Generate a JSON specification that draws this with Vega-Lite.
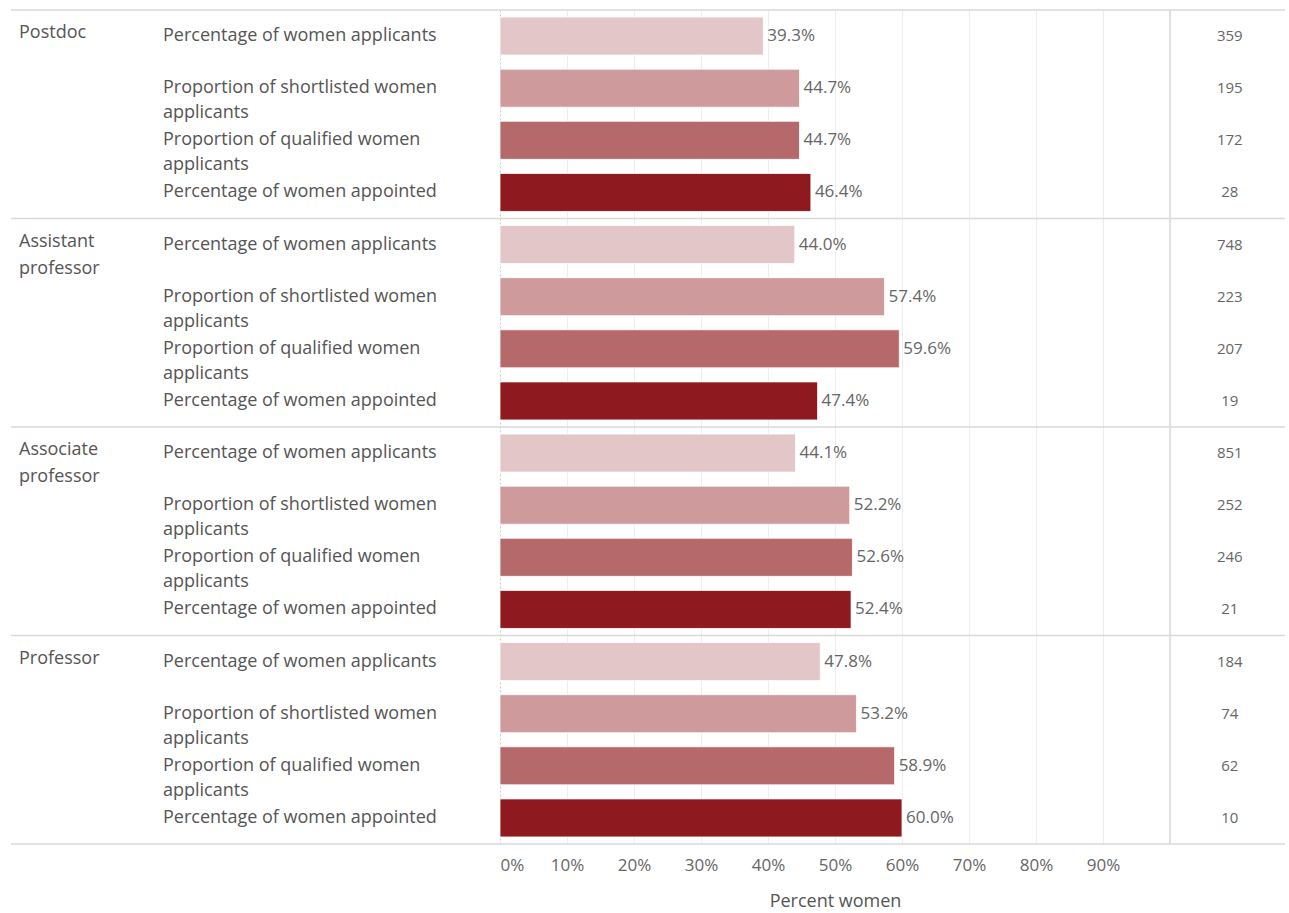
{
  "$schema": "https://vega.github.io/schema/vega-lite/v6.json",
  "padding": {"left": 10, "top": 9, "right": 4, "bottom": 0},
  "background": "white",
  "spacing": 0,
  "bounds": "flush",
  "config": {
    "font": "Open Sans",
    "view": {"stroke": null},
    "concat": {"spacing": 0}
  },
  "data": {
    "values": [
      {"level": "Postdoc", "measure": "Percentage of women applicants", "pct": 0.393, "n": 359},
      {"level": "Postdoc", "measure": "Proportion of shortlisted women\napplicants", "pct": 0.447, "n": 195},
      {"level": "Postdoc", "measure": "Proportion of qualified women\napplicants", "pct": 0.447, "n": 172},
      {"level": "Postdoc", "measure": "Percentage of women appointed", "pct": 0.464, "n": 28},
      {"level": "Assistant professor", "measure": "Percentage of women applicants", "pct": 0.440, "n": 748},
      {"level": "Assistant professor", "measure": "Proportion of shortlisted women\napplicants", "pct": 0.574, "n": 223},
      {"level": "Assistant professor", "measure": "Proportion of qualified women\napplicants", "pct": 0.596, "n": 207},
      {"level": "Assistant professor", "measure": "Percentage of women appointed", "pct": 0.474, "n": 19},
      {"level": "Associate professor", "measure": "Percentage of women applicants", "pct": 0.441, "n": 851},
      {"level": "Associate professor", "measure": "Proportion of shortlisted women\napplicants", "pct": 0.522, "n": 252},
      {"level": "Associate professor", "measure": "Proportion of qualified women\napplicants", "pct": 0.526, "n": 246},
      {"level": "Associate professor", "measure": "Percentage of women appointed", "pct": 0.524, "n": 21},
      {"level": "Professor", "measure": "Percentage of women applicants", "pct": 0.478, "n": 184},
      {"level": "Professor", "measure": "Proportion of shortlisted women\napplicants", "pct": 0.532, "n": 74},
      {"level": "Professor", "measure": "Proportion of qualified women\napplicants", "pct": 0.589, "n": 62},
      {"level": "Professor", "measure": "Percentage of women appointed", "pct": 0.600, "n": 10}
    ]
  },
  "hconcat": [
    {
      "width": 142,
      "height": 834,
      "layer": [
        {
          "transform": [{"filter": "datum.measure == 'Percentage of women applicants'"}],
          "mark": {"type": "rule", "color": "#d9d9d9", "strokeWidth": 1.5},
          "encoding": {
            "y": {"field": "level", "type": "nominal", "sort": ["Postdoc", "Assistant professor", "Associate professor", "Professor"], "bandPosition": 0, "axis": null, "scale": {"padding": 0}}
          }
        },
        {
          "transform": [{"filter": "datum.measure == 'Percentage of women appointed' && datum.level == 'Professor'"}],
          "mark": {"type": "rule", "color": "#d9d9d9", "strokeWidth": 1.5},
          "encoding": {
            "y": {"field": "level", "type": "nominal", "sort": ["Postdoc", "Assistant professor", "Associate professor", "Professor"], "bandPosition": 1, "axis": null}
          }
        },
        {
          "transform": [{"filter": "datum.measure == 'Percentage of women applicants'"}],
          "mark": {"type": "text", "align": "left", "baseline": "top", "dx": 8, "dy": 14, "fontSize": 18, "color": "#555555", "lineBreak": " ", "lineHeight": 27},
          "encoding": {
            "x": {"datum": 0, "type": "quantitative", "scale": {"domain": [0, 1]}, "axis": null},
            "y": {"field": "level", "type": "nominal", "sort": ["Postdoc", "Assistant professor", "Associate professor", "Professor"], "bandPosition": 0, "axis": null},
            "text": {"field": "level"}
          }
        }
      ]
    },
    {
      "width": 347,
      "height": 834,
      "layer": [
        {
          "transform": [{"filter": "datum.measure == 'Percentage of women applicants'"}],
          "mark": {"type": "rule", "color": "#d9d9d9", "strokeWidth": 1.5},
          "encoding": {
            "y": {"field": "level", "type": "nominal", "sort": ["Postdoc", "Assistant professor", "Associate professor", "Professor"], "bandPosition": 0, "axis": null, "scale": {"padding": 0}}
          }
        },
        {
          "transform": [{"filter": "datum.measure == 'Percentage of women appointed' && datum.level == 'Professor'"}],
          "mark": {"type": "rule", "color": "#d9d9d9", "strokeWidth": 1.5},
          "encoding": {
            "y": {"field": "level", "type": "nominal", "sort": ["Postdoc", "Assistant professor", "Associate professor", "Professor"], "bandPosition": 1, "axis": null}
          }
        },
        {
          "mark": {"type": "text", "align": "left", "baseline": "middle", "dx": 10, "fontSize": 18, "color": "#555555", "lineBreak": "\n", "lineHeight": 25},
          "encoding": {
            "x": {"datum": 0, "type": "quantitative", "scale": {"domain": [0, 1]}, "axis": null},
            "y": {"field": "level", "type": "nominal", "sort": ["Postdoc", "Assistant professor", "Associate professor", "Professor"], "axis": null},
            "yOffset": {"field": "measure", "type": "nominal", "sort": ["Percentage of women applicants", "Proportion of shortlisted women\napplicants", "Proportion of qualified women\napplicants", "Percentage of women appointed"], "scale": {"paddingInner": 0.27, "paddingOuter": 0.135}},
            "text": {"field": "measure"}
          }
        }
      ]
    },
    {
      "width": 670,
      "height": 834,
      "layer": [
        {
          "transform": [{"filter": "datum.measure == 'Percentage of women applicants'"}],
          "mark": {"type": "rule", "color": "#d9d9d9", "strokeWidth": 1.5},
          "encoding": {
            "y": {"field": "level", "type": "nominal", "sort": ["Postdoc", "Assistant professor", "Associate professor", "Professor"], "bandPosition": 0, "axis": null, "scale": {"padding": 0}}
          }
        },
        {
          "transform": [{"filter": "datum.measure == 'Percentage of women appointed' && datum.level == 'Professor'"}],
          "mark": {"type": "rule", "color": "#d9d9d9", "strokeWidth": 1.5},
          "encoding": {
            "y": {"field": "level", "type": "nominal", "sort": ["Postdoc", "Assistant professor", "Associate professor", "Professor"], "bandPosition": 1, "axis": null}
          }
        },
        {
          "mark": {"type": "rule", "color": "#e0e0e0", "strokeWidth": 1.5},
          "encoding": {
            "x": {"datum": 1, "type": "quantitative"}
          }
        },
        {
          "mark": {"type": "bar", "stroke": "white", "strokeWidth": 0.8},
          "encoding": {
            "x": {
              "field": "pct", "type": "quantitative",
              "scale": {"domain": [0, 1], "nice": false},
              "axis": {
                "values": [0, 0.1, 0.2, 0.3, 0.4, 0.5, 0.6, 0.7, 0.8, 0.9],
                "format": ".0%",
                "orient": "bottom",
                "domain": false,
                "ticks": false,
                "grid": true,
                "gridColor": {"condition": {"test": "datum.value === 0", "value": "#c8c8c8"}, "value": "#eeeeee"},
                "gridDash": {"condition": {"test": "datum.value === 0", "value": [2, 2]}, "value": []},
                "labelFontSize": 17,
                "labelColor": "#666666",
                "labelPadding": 13,
                "title": "Percent women",
                "titleFontSize": 18,
                "titleFontWeight": "normal",
                "titleColor": "#555555",
                "titlePadding": 19
              }
            },
            "y": {"field": "level", "type": "nominal", "sort": ["Postdoc", "Assistant professor", "Associate professor", "Professor"], "axis": null},
            "yOffset": {"field": "measure", "type": "nominal", "sort": ["Percentage of women applicants", "Proportion of shortlisted women\napplicants", "Proportion of qualified women\napplicants", "Percentage of women appointed"], "scale": {"paddingInner": 0.27, "paddingOuter": 0.135}},
            "color": {
              "field": "measure", "type": "nominal",
              "scale": {
                "domain": ["Percentage of women applicants", "Proportion of shortlisted women\napplicants", "Proportion of qualified women\napplicants", "Percentage of women appointed"],
                "range": ["#e3c6c8", "#cf9a9b", "#b5696a", "#8e1a1f"]
              },
              "legend": null
            }
          }
        },
        {
          "mark": {"type": "text", "align": "left", "baseline": "middle", "dx": 4, "fontSize": 17, "color": "#666666"},
          "encoding": {
            "x": {"field": "pct", "type": "quantitative"},
            "y": {"field": "level", "type": "nominal", "sort": ["Postdoc", "Assistant professor", "Associate professor", "Professor"], "axis": null},
            "yOffset": {"field": "measure", "type": "nominal", "sort": ["Percentage of women applicants", "Proportion of shortlisted women\napplicants", "Proportion of qualified women\napplicants", "Percentage of women appointed"]},
            "text": {"field": "pct", "format": ".1%"}
          }
        }
      ]
    },
    {
      "width": 115,
      "height": 834,
      "layer": [
        {
          "transform": [{"filter": "datum.measure == 'Percentage of women applicants'"}],
          "mark": {"type": "rule", "color": "#d9d9d9", "strokeWidth": 1.5},
          "encoding": {
            "y": {"field": "level", "type": "nominal", "sort": ["Postdoc", "Assistant professor", "Associate professor", "Professor"], "bandPosition": 0, "axis": null, "scale": {"padding": 0}}
          }
        },
        {
          "transform": [{"filter": "datum.measure == 'Percentage of women appointed' && datum.level == 'Professor'"}],
          "mark": {"type": "rule", "color": "#d9d9d9", "strokeWidth": 1.5},
          "encoding": {
            "y": {"field": "level", "type": "nominal", "sort": ["Postdoc", "Assistant professor", "Associate professor", "Professor"], "bandPosition": 1, "axis": null}
          }
        },
        {
          "mark": {"type": "text", "align": "center", "baseline": "middle", "fontSize": 15, "color": "#666666"},
          "encoding": {
            "x": {"datum": 0.52, "type": "quantitative", "scale": {"domain": [0, 1]}, "axis": null},
            "y": {"field": "level", "type": "nominal", "sort": ["Postdoc", "Assistant professor", "Associate professor", "Professor"], "axis": null},
            "yOffset": {"field": "measure", "type": "nominal", "sort": ["Percentage of women applicants", "Proportion of shortlisted women\napplicants", "Proportion of qualified women\napplicants", "Percentage of women appointed"], "scale": {"paddingInner": 0.27, "paddingOuter": 0.135}},
            "text": {"field": "n", "type": "quantitative"}
          }
        }
      ]
    }
  ]
}
